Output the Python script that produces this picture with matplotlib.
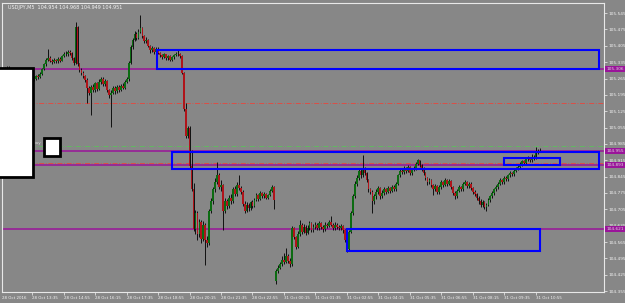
import numpy as np
import matplotlib
matplotlib.use("Agg")
import matplotlib.pyplot as plt
from matplotlib.patches import Rectangle
import matplotlib.transforms as mtransforms

# USDJPY M5 candles (bar 0 = 28 Oct 12:15)
opens = [
    105.300, 105.305, 105.300, 105.308, 105.312, 105.303, 105.298, 105.305, 105.300, 105.292,
    105.296, 105.288, 105.285, 105.280, 105.276, 105.282, 105.278, 105.268, 105.262, 105.275,
    105.270, 105.285, 105.305, 105.325, 105.345, 105.352, 105.340, 105.335, 105.345, 105.338,
    105.350, 105.342, 105.360, 105.372, 105.368, 105.380, 105.375, 105.352, 105.330, 105.485,
    105.325, 105.300, 105.290, 105.275, 105.260, 105.225, 105.205, 105.230, 105.215, 105.245,
    105.220, 105.250, 105.265, 105.240, 105.255, 105.215, 105.195, 105.205, 105.225, 105.210,
    105.230, 105.215, 105.235, 105.225, 105.250, 105.262, 105.330, 105.400, 105.430, 105.455,
    105.440, 105.465, 105.480, 105.445, 105.425, 105.430, 105.405, 105.385, 105.395, 105.380,
    105.392, 105.375, 105.365, 105.358, 105.368, 105.352, 105.360, 105.345, 105.355, 105.365,
    105.372, 105.368, 105.360, 105.290, 105.135, 105.020, 105.055, 104.890, 104.790, 104.620,
    104.690, 104.600, 104.650, 104.580, 104.640, 104.575, 104.560, 104.700, 104.740, 104.790,
    104.820, 104.850, 104.800, 104.810, 104.700, 104.740, 104.720, 104.755, 104.740, 104.790,
    104.770, 104.810, 104.795, 104.780, 104.730, 104.700, 104.725, 104.710, 104.735, 104.720,
    104.745, 104.765, 104.750, 104.775, 104.760, 104.770, 104.755, 104.765, 104.785, 104.800,
    104.400, 104.440, 104.455, 104.470, 104.490, 104.480, 104.505, 104.485, 104.470, 104.625,
    104.585, 104.545, 104.600, 104.640, 104.610, 104.630, 104.605, 104.625, 104.645, 104.615,
    104.630, 104.640, 104.625, 104.645, 104.630, 104.620, 104.640, 104.635, 104.650, 104.640,
    104.625, 104.640, 104.630, 104.625, 104.635, 104.615, 104.575, 104.535, 104.610, 104.690,
    104.760, 104.815, 104.840, 104.870, 104.850, 104.875, 104.860, 104.830, 104.790, 104.780,
    104.740, 104.760, 104.780, 104.795, 104.760, 104.775, 104.790, 104.780, 104.795, 104.785,
    104.800, 104.790, 104.815, 104.850, 104.870, 104.865, 104.880, 104.870, 104.885, 104.860,
    104.875, 104.880, 104.900, 104.915, 104.895, 104.880, 104.860, 104.840, 104.820, 104.830,
    104.810, 104.790, 104.805, 104.780, 104.800, 104.820, 104.810, 104.830, 104.815, 104.825,
    104.800, 104.775, 104.760, 104.785, 104.800, 104.790, 104.815, 104.820, 104.805, 104.815,
    104.795, 104.780, 104.770, 104.755, 104.740, 104.725, 104.735, 104.715, 104.725, 104.745,
    104.760, 104.775, 104.790, 104.800, 104.815, 104.830, 104.820, 104.840, 104.835, 104.850,
    104.860, 104.855, 104.870, 104.880, 104.885, 104.900, 104.910, 104.905, 104.920, 104.925,
    104.915, 104.930, 104.925, 104.945, 104.954,
]
closes = [
    105.305, 105.300, 105.308, 105.312, 105.303, 105.298, 105.305, 105.300, 105.292, 105.296,
    105.288, 105.285, 105.280, 105.276, 105.282, 105.278, 105.268, 105.262, 105.275, 105.270,
    105.285, 105.305, 105.325, 105.345, 105.352, 105.340, 105.335, 105.345, 105.338, 105.350,
    105.342, 105.360, 105.372, 105.368, 105.380, 105.375, 105.352, 105.330, 105.485, 105.325,
    105.300, 105.290, 105.275, 105.260, 105.225, 105.205, 105.230, 105.215, 105.245, 105.220,
    105.250, 105.265, 105.240, 105.255, 105.215, 105.195, 105.205, 105.225, 105.210, 105.230,
    105.215, 105.235, 105.225, 105.250, 105.262, 105.330, 105.400, 105.430, 105.455, 105.440,
    105.465, 105.480, 105.445, 105.425, 105.430, 105.405, 105.385, 105.395, 105.380, 105.392,
    105.375, 105.365, 105.358, 105.368, 105.352, 105.360, 105.345, 105.355, 105.365, 105.372,
    105.368, 105.360, 105.290, 105.135, 105.020, 105.055, 104.890, 104.790, 104.620, 104.690,
    104.600, 104.650, 104.580, 104.640, 104.575, 104.560, 104.700, 104.740, 104.790, 104.820,
    104.850, 104.800, 104.810, 104.700, 104.740, 104.720, 104.755, 104.740, 104.790, 104.770,
    104.810, 104.795, 104.780, 104.730, 104.700, 104.725, 104.710, 104.735, 104.720, 104.745,
    104.765, 104.750, 104.775, 104.760, 104.770, 104.755, 104.765, 104.785, 104.800, 104.745,
    104.440, 104.455, 104.470, 104.490, 104.480, 104.505, 104.485, 104.470, 104.625, 104.585,
    104.545, 104.600, 104.640, 104.610, 104.630, 104.605, 104.625, 104.645, 104.615, 104.630,
    104.640, 104.625, 104.645, 104.630, 104.620, 104.640, 104.635, 104.650, 104.640, 104.625,
    104.640, 104.630, 104.625, 104.635, 104.615, 104.575, 104.535, 104.610, 104.690, 104.760,
    104.815, 104.840, 104.870, 104.850, 104.875, 104.860, 104.830, 104.790, 104.780, 104.740,
    104.760, 104.780, 104.795, 104.760, 104.775, 104.790, 104.780, 104.795, 104.785, 104.800,
    104.790, 104.815, 104.850, 104.870, 104.865, 104.880, 104.870, 104.885, 104.860, 104.875,
    104.880, 104.900, 104.915, 104.895, 104.880, 104.860, 104.840, 104.820, 104.830, 104.810,
    104.790, 104.805, 104.780, 104.800, 104.820, 104.810, 104.830, 104.815, 104.825, 104.800,
    104.775, 104.760, 104.785, 104.800, 104.790, 104.815, 104.820, 104.805, 104.815, 104.795,
    104.780, 104.770, 104.755, 104.740, 104.725, 104.735, 104.715, 104.725, 104.745, 104.760,
    104.775, 104.790, 104.800, 104.815, 104.830, 104.820, 104.840, 104.835, 104.850, 104.860,
    104.855, 104.870, 104.880, 104.885, 104.900, 104.910, 104.905, 104.920, 104.925, 104.915,
    104.930, 104.925, 104.945, 104.954, 104.951,
]
highs = [
    105.316, 105.310, 105.313, 105.318, 105.318, 105.308, 105.310, 105.309, 105.304, 105.301,
    105.300, 105.294, 105.290, 105.286, 105.288, 105.290, 105.284, 105.274, 105.281, 105.284,
    105.292, 105.310, 105.332, 105.352, 105.390, 105.360, 105.348, 105.352, 105.350, 105.356,
    105.355, 105.366, 105.380, 105.384, 105.388, 105.386, 105.380, 105.356, 105.507, 105.490,
    105.330, 105.308, 105.296, 105.282, 105.266, 105.234, 105.238, 105.242, 105.252, 105.250,
    105.262, 105.272, 105.270, 105.262, 105.260, 105.222, 105.214, 105.234, 105.232, 105.238,
    105.236, 105.242, 105.244, 105.258, 105.272, 105.338, 105.408, 105.440, 105.470, 105.462,
    105.478, 105.537, 105.486, 105.450, 105.442, 105.436, 105.410, 105.405, 105.402, 105.400,
    105.398, 105.380, 105.372, 105.374, 105.372, 105.366, 105.364, 105.362, 105.372, 105.380,
    105.385, 105.375, 105.364, 105.294, 105.160, 105.062, 105.060, 104.960, 104.818, 104.702,
    104.698, 104.665, 104.660, 104.655, 104.648, 104.590, 104.708, 104.752, 104.800, 104.838,
    104.908, 104.860, 104.830, 104.815, 104.752, 104.750, 104.765, 104.772, 104.800, 104.805,
    104.822, 104.852, 104.805, 104.786, 104.740, 104.735, 104.732, 104.742, 104.745, 104.752,
    104.775, 104.772, 104.782, 104.780, 104.778, 104.776, 104.772, 104.792, 104.808, 104.806,
    104.450, 104.468, 104.480, 104.505, 104.520, 104.540, 104.512, 104.495, 104.632, 104.630,
    104.592, 104.612, 104.660, 104.648, 104.642, 104.638, 104.640, 104.656, 104.650, 104.642,
    104.652, 104.648, 104.656, 104.652, 104.638, 104.650, 104.648, 104.660, 104.676, 104.648,
    104.650, 104.646, 104.638, 104.642, 104.640, 104.620, 104.582, 104.618, 104.698, 104.770,
    104.825, 104.852, 104.882, 104.878, 104.938, 104.885, 104.866, 104.836, 104.798, 104.786,
    104.770, 104.790, 104.806, 104.800, 104.786, 104.800, 104.798, 104.805, 104.802, 104.810,
    104.808, 104.824, 104.858, 104.880, 104.878, 104.890, 104.886, 104.895, 104.890, 104.884,
    104.892, 104.908, 104.920, 104.918, 104.900, 104.886, 104.866, 104.845, 104.840, 104.836,
    104.815, 104.815, 104.810, 104.810, 104.830, 104.828, 104.840, 104.836, 104.834, 104.830,
    104.806, 104.782, 104.792, 104.810, 104.806, 104.824, 104.830, 104.826, 104.822, 104.820,
    104.800, 104.788, 104.776, 104.762, 104.748, 104.744, 104.740, 104.732, 104.752, 104.768,
    104.782, 104.798, 104.810, 104.822, 104.838, 104.836, 104.848, 104.846, 104.858, 104.868,
    104.866, 104.878, 104.888, 104.894, 104.908, 104.918, 104.916, 104.928, 104.934, 104.930,
    104.940, 104.938, 104.972, 104.962, 104.968,
]
lows = [
    105.294, 105.292, 105.296, 105.302, 105.298, 105.290, 105.293, 105.294, 105.287, 105.285,
    105.282, 105.278, 105.274, 105.270, 105.271, 105.272, 105.262, 105.255, 105.258, 105.263,
    105.266, 105.280, 105.300, 105.320, 105.338, 105.334, 105.328, 105.330, 105.332, 105.333,
    105.336, 105.338, 105.355, 105.362, 105.363, 105.366, 105.346, 105.322, 105.326, 105.318,
    105.292, 105.280, 105.266, 105.250, 105.160, 105.196, 105.110, 105.206, 105.208, 105.212,
    105.214, 105.242, 105.232, 105.232, 105.206, 105.180, 105.057, 105.198, 105.200, 105.204,
    105.206, 105.210, 105.218, 105.220, 105.244, 105.255, 105.326, 105.392, 105.424, 105.430,
    105.435, 105.458, 105.438, 105.415, 105.418, 105.398, 105.376, 105.380, 105.372, 105.374,
    105.368, 105.356, 105.350, 105.352, 105.345, 105.346, 105.338, 105.340, 105.350, 105.360,
    105.362, 105.354, 105.284, 105.128, 105.012, 105.010, 104.882, 104.782, 104.612, 104.600,
    104.574, 104.585, 104.560, 104.570, 104.467, 104.545, 104.552, 104.690, 104.730, 104.780,
    104.812, 104.790, 104.785, 104.617, 104.690, 104.705, 104.712, 104.728, 104.732, 104.760,
    104.762, 104.786, 104.770, 104.720, 104.690, 104.694, 104.700, 104.704, 104.712, 104.715,
    104.740, 104.742, 104.745, 104.752, 104.754, 104.748, 104.750, 104.760, 104.778, 104.705,
    104.385, 104.432, 104.448, 104.462, 104.470, 104.474, 104.476, 104.458, 104.462, 104.578,
    104.535, 104.540, 104.592, 104.598, 104.602, 104.595, 104.598, 104.618, 104.606, 104.608,
    104.622, 104.616, 104.618, 104.622, 104.610, 104.612, 104.626, 104.628, 104.632, 104.615,
    104.618, 104.622, 104.616, 104.618, 104.605, 104.566, 104.522, 104.528, 104.602, 104.682,
    104.752, 104.806, 104.832, 104.840, 104.844, 104.850, 104.822, 104.780, 104.770, 104.690,
    104.730, 104.750, 104.772, 104.750, 104.752, 104.768, 104.770, 104.774, 104.776, 104.778,
    104.782, 104.784, 104.808, 104.842, 104.856, 104.858, 104.862, 104.864, 104.852, 104.854,
    104.868, 104.874, 104.894, 104.886, 104.870, 104.850, 104.830, 104.810, 104.812, 104.800,
    104.766, 104.782, 104.770, 104.772, 104.794, 104.802, 104.804, 104.806, 104.808, 104.792,
    104.765, 104.750, 104.754, 104.778, 104.782, 104.784, 104.808, 104.798, 104.798, 104.788,
    104.772, 104.760, 104.746, 104.730, 104.715, 104.716, 104.706, 104.700, 104.718, 104.738,
    104.752, 104.768, 104.782, 104.794, 104.808, 104.812, 104.814, 104.826, 104.828, 104.842,
    104.846, 104.848, 104.864, 104.872, 104.878, 104.892, 104.896, 104.898, 104.912, 104.906,
    104.908, 104.918, 104.920, 104.940, 104.949,
]

# x-axis time labels, one every 16 bars
time_bars = [0, 16, 32, 48, 64, 80, 96, 112, 128, 144, 160, 176, 192, 208, 224, 240, 256, 272]
time_labels = ["28 Oct 2016", "28 Oct 13:35", "28 Oct 14:55", "28 Oct 16:15", "28 Oct 17:35",
               "28 Oct 18:55", "28 Oct 20:15", "28 Oct 21:35", "28 Oct 22:55", "31 Oct 00:15",
               "31 Oct 01:35", "31 Oct 02:55", "31 Oct 04:15", "31 Oct 05:35", "31 Oct 06:55",
               "31 Oct 08:15", "31 Oct 09:35", "31 Oct 10:55"]

# price scale
price_ticks = [105.545, 105.475, 105.405, 105.335, 105.265, 105.195, 105.125, 105.055, 104.985,
               104.915, 104.845, 104.775, 104.705, 104.635, 104.565, 104.495, 104.425, 104.355]

# horizontal levels
purple_levels = [105.306, 104.955, 104.893, 104.621]
red_dashdot_levels = [105.160, 104.903]
green_dashdot_levels = [104.976]

# zones: (bar_from, bar_to, price_low, price_high)
zones = [
    (79.4, 304.2, 105.306, 105.386),
    (87.3, 304.2, 104.878, 104.952),
    (176.3, 274.2, 104.527, 104.621),
    (255.9, 284.2, 104.895, 104.925),
]

title = "USDJPY,M5  104.954 104.968 104.949 104.951"

BG = "#878787"
FG = "#f2f2f2"

o = np.array(opens)
c = np.array(closes)
h = np.array(highs)
l = np.array(lows)
x = np.arange(len(c))

fig = plt.figure(figsize=(6.25, 3.03), dpi=100, facecolor=BG)
ax = fig.add_axes([2 / 625, 11 / 303, 602 / 625, 289 / 303], facecolor=BG)

# levels
for p in purple_levels:
    ax.axhline(p, color="#9a149a", lw=1.1, zorder=2)
for p in red_dashdot_levels:
    ax.axhline(p, color="#e8463c", lw=0.6, ls=(0, (6, 2, 1, 2)), zorder=2)
for p in green_dashdot_levels:
    ax.axhline(p, color="#5cbf5c", lw=0.6, ls=(0, (6, 2, 1, 2)), zorder=2)

# candles
ax.vlines(x, l, h, color="#101010", lw=0.7, zorder=3)
up = c >= o
body_h = np.maximum(np.abs(c - o), 0.002)
body_b = np.minimum(o, c)
ax.bar(x[up], body_h[up], bottom=body_b[up], width=0.9, color="#0c6b12", lw=0, zorder=4)
ax.bar(x[~up], body_h[~up], bottom=body_b[~up], width=0.9, color="#b0141a", lw=0, zorder=4)

# zones
for x0, x1, y0, y1 in zones:
    ax.add_patch(Rectangle((x0, y0), x1 - x0, y1 - y0, fill=False, ec="#0000ff", lw=1.5, zorder=5))

ax.set_xlim(0.59, 306.8)
ax.set_ylim(104.3512, 105.5882)

# axes style
for s in ax.spines.values():
    s.set_color("#e8e8e8")
    s.set_linewidth(0.8)
ax.yaxis.tick_right()
ax.set_yticks(price_ticks)
ax.set_yticklabels([f"{v:.3f}" for v in price_ticks])
ax.tick_params(axis="y", colors=FG, labelsize=3.1, length=2, width=0.5, pad=1.2)
ax.set_xticks(time_bars[1:])
ax.set_xticklabels(time_labels[1:])
ax.tick_params(axis="x", colors=FG, labelsize=2.9, length=2, width=0.5, pad=0.8)
for t in ax.get_xticklabels():
    t.set_ha("left")
ax.text(0.0, -0.013, time_labels[0], transform=ax.transAxes, fontsize=2.9, color=FG,
        ha="left", va="top")

# highlighted price labels on the scale
trans = mtransforms.blended_transform_factory(ax.transAxes, ax.transData)
for p in purple_levels:
    ax.text(1.004, p, f"{p:.3f}", transform=trans, fontsize=3.1, color="#dddddd",
            ha="left", va="center", clip_on=False, zorder=6,
            bbox=dict(boxstyle="square,pad=0.25", fc="#9a149a", ec="none"))

# title
fig.text(8 / 625, 1 - 7 / 303, title, fontsize=3.5, color=FG, ha="left", va="center")

# panels drawn over the chart
fig.add_artist(Rectangle((-2 / 625, 1 - 177 / 303), 35 / 625, 109 / 303,
                         transform=fig.transFigure, fc="white", ec="black", lw=2, zorder=10))
fig.add_artist(Rectangle((44 / 625, 1 - 156 / 303), 16 / 625, 18 / 303,
                         transform=fig.transFigure, fc="white", ec="black", lw=2, zorder=10))
fig.text(34 / 625, 1 - 143 / 303, "buy", fontsize=3, color="#d8d8d8", ha="left", va="center")

fig.savefig("out.png", dpi=100, facecolor=BG)
